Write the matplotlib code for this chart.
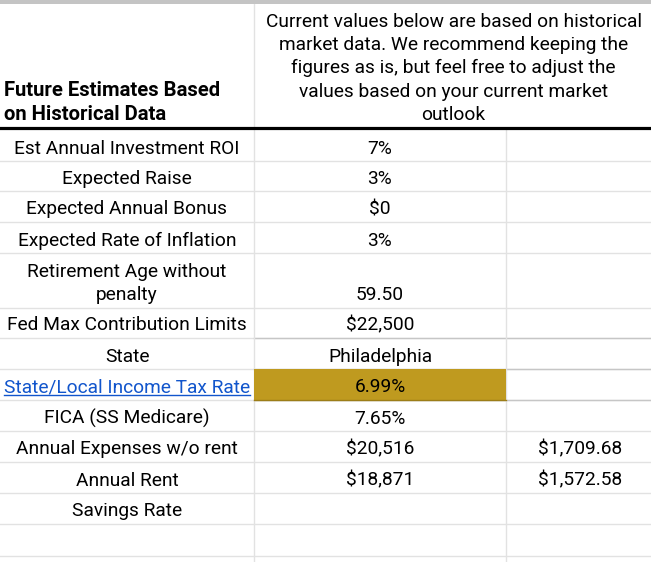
import matplotlib.pyplot as plt
from matplotlib.patches import Rectangle

plt.rcParams['font.family'] = ['Roboto', 'DejaVu Sans']

# table content
header_left = "Future Estimates Based\non Historical Data"
header_right = ("Current values below are based on historical\n"
                "market data. We recommend keeping the\n"
                "figures as is, but feel free to adjust the\n"
                "values based on your current market\n"
                "outlook")

labels = ["Est Annual Investment ROI", "Expected Raise", "Expected Annual Bonus",
          "Expected Rate of Inflation", "Retirement Age without\npenalty",
          "Fed Max Contribution Limits", "State", "State/Local Income Tax Rate",
          "FICA (SS Medicare)", "Annual Expenses w/o rent", "Annual Rent",
          "Savings Rate", ""]
values = ["7%", "3%", "$0", "3%", "59.50", "$22,500", "Philadelphia", "6.99%",
          "7.65%", "$20,516", "$18,871", "", ""]
monthly = ["", "", "", "", "", "", "", "", "", "$1,709.68", "$1,572.58", "", ""]

# row edges in pixels
row_edges = [128, 161, 191, 222, 253, 308, 338, 369, 400, 431, 462, 493, 524, 556]
col_edges = [0, 254, 506, 651]
link_row = 7
gold_row = 7

W, H = 651, 562
fig = plt.figure(figsize=(W / 100, H / 100), dpi=100)
ax = fig.add_axes([0, 0, 1, 1])
ax.set_xlim(0, W)
ax.set_ylim(H, 0)
ax.axis('off')

fs = 13.8
ls = 1.38
light = '#e2e2e2'

# top grey bar
ax.add_patch(Rectangle((0, 0), W, 4, color='#c4c4c4', lw=0))

# gold cell
y0, y1 = row_edges[gold_row], row_edges[gold_row + 1]
ax.add_patch(Rectangle((col_edges[1], y0), col_edges[2] - col_edges[1], y1 - y0,
                       facecolor='#bf9a1f', edgecolor='none', zorder=1))
ax.plot([col_edges[1], col_edges[2]], [y1, y1], color='#9c7d18', lw=1, zorder=2)

# gridlines
for y in row_edges[1:]:
    ax.plot([0, W], [y, y], color=light, lw=1, zorder=0)
for y in row_edges[6:9]:
    ax.plot([col_edges[1], W], [y, y], color='#c6c6c6', lw=1, zorder=0)
ax.plot([col_edges[1], col_edges[1]], [4, H], color=light, lw=1, zorder=0)
ax.plot([col_edges[2], col_edges[2]], [row_edges[0], H], color=light, lw=1, zorder=0)
ax.plot([0, W], [row_edges[0], row_edges[0]], color='black', lw=2.3, zorder=3)

# header
ax.text(4, row_edges[0] - 8, header_left, fontsize=14.6, fontweight='bold',
        ha='left', va='baseline', linespacing=1.32)
ax.text((col_edges[1] + W) / 2 + 1, row_edges[0] - 8, header_right, fontsize=fs,
        ha='center', va='baseline', linespacing=ls, multialignment='center')

cx = [(col_edges[i] + col_edges[i + 1]) / 2 for i in range(3)]
renderer = fig.canvas.get_renderer()
for i in range(len(labels)):
    yb = row_edges[i + 1] - 7.5
    color = '#1155cc' if i == link_row else 'black'
    t = ax.text(cx[0], yb, labels[i], fontsize=fs, ha='center', va='baseline',
                color=color, linespacing=ls, multialignment='center')
    if i == link_row:
        bb = t.get_window_extent(renderer).transformed(ax.transData.inverted())
        ax.plot([bb.x0, bb.x1], [yb + 2.5, yb + 2.5], color=color, lw=1)
    ax.text(cx[1], yb, values[i], fontsize=fs, ha='center', va='baseline')
    ax.text(cx[2] + 2, yb, monthly[i], fontsize=fs, ha='center', va='baseline')

fig.savefig('out.png', dpi=100)
